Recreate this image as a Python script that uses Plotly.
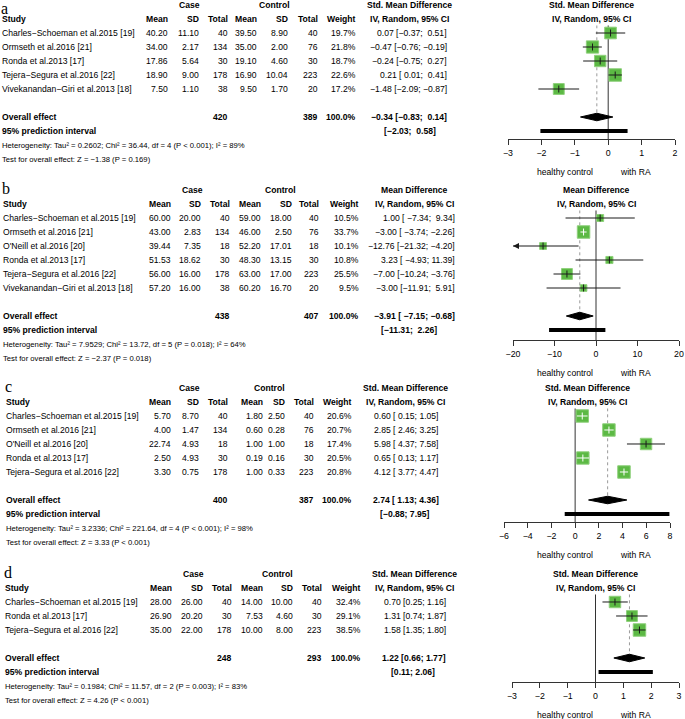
import math
import plotly.graph_objects as go

# ---------------- DATA ----------------
# Panel a
A_STUDY = ["Charles−Schoeman et al.2015 [19]", "Ormseth et al.2016 [21]", "Ronda et al.2013 [17]",
           "Tejera−Segura et al.2016 [22]", "Vivekanandan−Giri et al.2013 [18]"]
A_CASE_MEAN = [40.20, 34.00, 17.86, 18.90, 7.50]
A_CASE_SD = [11.10, 2.17, 5.64, 9.00, 1.10]
A_CASE_N = [40, 134, 30, 178, 38]
A_CTRL_MEAN = [39.50, 35.00, 19.10, 16.90, 9.50]
A_CTRL_SD = [8.90, 2.00, 4.60, 10.04, 1.70]
A_CTRL_N = [40, 76, 30, 223, 20]
A_WEIGHT = [19.7, 21.8, 18.7, 22.6, 17.2]
A_EST = [0.07, -0.47, -0.24, 0.21, -1.48]
A_LO = [-0.37, -0.76, -0.75, 0.01, -2.09]
A_HI = [0.51, -0.19, 0.27, 0.41, -0.87]
A_TOTALS = [420, 389]
A_OVERALL = [-0.34, -0.83, 0.14]
A_PRED = [-2.03, 0.58]
A_HET = ["0.2602", "36.44", "4", "P &lt; 0.001", "89%"]
A_TEST = ["−1.38", "P = 0.169"]
A_TICKS = [-3, -2, -1, 0, 1, 2]

# Panel b
B_STUDY = ["Charles−Schoeman et al.2015 [19]", "Ormseth et al.2016 [21]", "O'Neill et al.2016 [20]",
           "Ronda et al.2013 [17]", "Tejera−Segura et al.2016 [22]", "Vivekanandan−Giri et al.2013 [18]"]
B_CASE_MEAN = [60.00, 43.00, 39.44, 51.53, 56.00, 57.20]
B_CASE_SD = [20.00, 2.83, 7.35, 18.62, 16.00, 16.00]
B_CASE_N = [40, 134, 18, 30, 178, 38]
B_CTRL_MEAN = [59.00, 46.00, 52.20, 48.30, 63.00, 60.20]
B_CTRL_SD = [18.00, 2.50, 17.01, 13.15, 17.00, 16.70]
B_CTRL_N = [40, 76, 18, 30, 223, 20]
B_WEIGHT = [10.5, 33.7, 10.1, 10.8, 25.5, 9.5]
B_EST = [1.00, -3.00, -12.76, 3.23, -7.00, -3.00]
B_LO = [-7.34, -3.74, -21.32, -4.93, -10.24, -11.91]
B_HI = [9.34, -2.26, -4.20, 11.39, -3.76, 5.91]
B_TOTALS = [438, 407]
B_OVERALL = [-3.91, -7.15, -0.68]
B_PRED = [-11.31, 2.26]
B_HET = ["7.9529", "13.72", "5", "P = 0.018", "64%"]
B_TEST = ["−2.37", "P = 0.018"]
B_TICKS = [-20, -10, 0, 10, 20]

# Panel c
C_STUDY = ["Charles−Schoeman et al.2015 [19]", "Ormseth et al.2016 [21]", "O'Neill et al.2016 [20]",
           "Ronda et al.2013 [17]", "Tejera−Segura et al.2016 [22]"]
C_CASE_MEAN = [5.70, 4.00, 22.74, 2.50, 3.30]
C_CASE_SD = [8.70, 1.47, 4.93, 4.93, 0.75]
C_CASE_N = [40, 134, 18, 30, 178]
C_CTRL_MEAN = [1.80, 0.60, 1.00, 0.19, 1.00]
C_CTRL_SD = [2.50, 0.28, 1.00, 0.16, 0.33]
C_CTRL_N = [40, 76, 18, 30, 223]
C_WEIGHT = [20.6, 20.7, 17.4, 20.5, 20.8]
C_EST = [0.60, 2.85, 5.98, 0.65, 4.12]
C_LO = [0.15, 2.46, 4.37, 0.13, 3.77]
C_HI = [1.05, 3.25, 7.58, 1.17, 4.47]
C_TOTALS = [400, 387]
C_OVERALL = [2.74, 1.13, 4.36]
C_PRED = [-0.88, 7.95]
C_HET = ["3.2336", "221.64", "4", "P &lt; 0.001", "98%"]
C_TEST = ["3.33", "P &lt; 0.001"]
C_TICKS = [-6, -4, -2, 0, 2, 4, 6, 8]

# Panel d
D_STUDY = ["Charles−Schoeman et al.2015 [19]", "Ronda et al.2013 [17]", "Tejera−Segura et al.2016 [22]"]
D_CASE_MEAN = [28.00, 26.90, 35.00]
D_CASE_SD = [26.00, 20.20, 22.00]
D_CASE_N = [40, 30, 178]
D_CTRL_MEAN = [14.00, 7.53, 10.00]
D_CTRL_SD = [10.00, 4.60, 8.00]
D_CTRL_N = [40, 30, 223]
D_WEIGHT = [32.4, 29.1, 38.5]
D_EST = [0.70, 1.31, 1.58]
D_LO = [0.25, 0.74, 1.35]
D_HI = [1.16, 1.87, 1.80]
D_TOTALS = [248, 293]
D_OVERALL = [1.22, 0.66, 1.77]
D_PRED = [0.11, 2.06]
D_HET = ["0.1984", "11.57", "2", "P = 0.003", "83%"]
D_TEST = ["4.26", "P &lt; 0.001"]
D_TICKS = [-3, -2, -1, 0, 1, 2, 3]

OVERALL_WEIGHT = "100.0%"

# ---------------- LAYOUT CONFIG ----------------
W, H = 685, 719
SANS = "Liberation Sans, Arial, Helvetica, sans-serif"
SERIF = "Liberation Serif, Times New Roman, serif"
FS = 8.6
SMALL = 7.7
GREEN = "#5cb944"
GREEN_EDGE = "#8fd07c"
ROWPX = 14.0

panels = [
    dict(letter="a", title="Std. Mean Difference", study=A_STUDY, cm=A_CASE_MEAN, csd=A_CASE_SD, cn=A_CASE_N,
         km=A_CTRL_MEAN, ksd=A_CTRL_SD, kn=A_CTRL_N, w=A_WEIGHT, est=A_EST, lo=A_LO, hi=A_HI,
         tot=A_TOTALS, ov=A_OVERALL, pred=A_PRED, het=A_HET, test=A_TEST, ticks=A_TICKS,
         row1=33, axis=139, xpx=(508, 675), wl=5, wh=5, lx=1,
         cols=dict(study=2, mean=168, sd=199, n=228, kmean=257, ksd=288, kn=318, w=356, ci=447, pred=436,
                   case=189, ctrl=274, head=409)),
    dict(letter="b", title="Mean Difference", study=B_STUDY, cm=B_CASE_MEAN, csd=B_CASE_SD, cn=B_CASE_N,
         km=B_CTRL_MEAN, ksd=B_CTRL_SD, kn=B_CTRL_N, w=B_WEIGHT, est=B_EST, lo=B_LO, hi=B_HI,
         tot=B_TOTALS, ov=B_OVERALL, pred=B_PRED, het=B_HET, test=B_TEST, ticks=B_TICKS,
         row1=218, axis=340, xpx=(513, 679), wl=6, wh=5, lx=2,
         cols=dict(study=3, mean=171, sd=201, n=230, kmean=261, ksd=292, kn=319, w=359, ci=455, pred=437,
                   case=192, ctrl=280, head=414)),
    dict(letter="c", title="Std. Mean Difference", study=C_STUDY, cm=C_CASE_MEAN, csd=C_CASE_SD, cn=C_CASE_N,
         km=C_CTRL_MEAN, ksd=C_CTRL_SD, kn=C_CTRL_N, w=C_WEIGHT, est=C_EST, lo=C_LO, hi=C_HI,
         tot=C_TOTALS, ov=C_OVERALL, pred=C_PRED, het=C_HET, test=C_TEST, ticks=C_TICKS,
         row1=416, axis=522, xpx=(504, 670), wl=5, wh=4, lx=5,
         cols=dict(study=6, mean=171, sd=199, n=228, kmean=263, ksd=285, kn=314, w=352, ci=439, pred=430,
                   case=189, ctrl=269, head=405)),
    dict(letter="d", title="Std. Mean Difference", study=D_STUDY, cm=D_CASE_MEAN, csd=D_CASE_SD, cn=D_CASE_N,
         km=D_CTRL_MEAN, ksd=D_CTRL_SD, kn=D_CTRL_N, w=D_WEIGHT, est=D_EST, lo=D_LO, hi=D_HI,
         tot=D_TOTALS, ov=D_OVERALL, pred=D_PRED, het=D_HET, test=D_TEST, ticks=D_TICKS,
         row1=602, axis=682, xpx=(512, 679), wl=4, wh=4, lx=4,
         cols=dict(study=5, mean=172, sd=203, n=232, kmean=263, ksd=293, kn=322, w=361, ci=446, pred=435,
                   case=193, ctrl=277, head=414)),
]


def num(v, width=0):
    s = f"{abs(v):.2f}"
    if v < 0:
        s = "−" + s
    pad = max(0, width - len(s))
    return "\u00a0" * pad + s


def px(x):
    return x / W


def py(y):
    return 1 - y / H


fig = go.Figure()
annotations = []


def text(t, x, ypx, xanchor="left", bold=False, size=FS, family=SANS, xref="paper", yanchor="middle"):
    annotations.append(dict(
        text=f"<b>{t}</b>" if bold else t, x=px(x) if xref == "paper" else x, y=py(ypx),
        xref=xref, yref="paper", xanchor=xanchor, yanchor=yanchor, showarrow=False,
        borderpad=0, borderwidth=0,
        font=dict(size=size, family=family, color="black")))


layout_axes = {}
for i, p in enumerate(panels, start=1):
    xname = "x" if i == 1 else f"x{i}"
    yname = "y" if i == 1 else f"y{i}"
    n = len(p["study"])
    rows = list(range(1, n + 1))
    ov_row = n + 2
    pr_row = n + 3

    def rp(r, p=p):
        return p["row1"] + (r - 1) * ROWPX

    axis_row = (p["axis"] - p["row1"]) / ROWPX + 1
    top_row = 0.45
    xr = [p["ticks"][0], p["ticks"][-1]]
    x0, x1 = p["xpx"]
    ppu = (x1 - x0) / (xr[1] - xr[0])

    layout_axes["xaxis" if i == 1 else f"xaxis{i}"] = dict(
        domain=[px(x0), px(x1)], range=xr, anchor=yname, showgrid=False, zeroline=False,
        showline=True, linecolor="#333", linewidth=1, ticks="outside", ticklen=5, tickwidth=1,
        tickcolor="#333", tickvals=p["ticks"], tickfont=dict(size=8.8, family=SANS, color="black"),
        ticklabeloverflow="allow", fixedrange=True)
    layout_axes["yaxis" if i == 1 else f"yaxis{i}"] = dict(
        domain=[py(p["axis"]), py(rp(top_row))], range=[axis_row, top_row], anchor=xname,
        visible=False, fixedrange=True)

    # reference lines
    fig.add_trace(go.Scatter(x=[0, 0], y=[top_row, axis_row], mode="lines", xaxis=xname, yaxis=yname,
                             line=dict(color="#333", width=1), hoverinfo="skip", showlegend=False,
                             cliponaxis=False))
    fig.add_trace(go.Scatter(x=[p["ov"][0]] * 2, y=[top_row, ov_row], mode="lines", xaxis=xname, yaxis=yname,
                             line=dict(color="#9a9a9a", width=1, dash="dot"), hoverinfo="skip",
                             showlegend=False, cliponaxis=False))

    # squares
    wmax = max(p["w"])
    sizes = [12.5 * math.sqrt(w / wmax) for w in p["w"]]
    fig.add_trace(go.Scatter(x=p["est"], y=rows, mode="markers", xaxis=xname, yaxis=yname,
                             marker=dict(symbol="square", size=sizes, color=GREEN, opacity=1,
                                         line=dict(color=GREEN_EDGE, width=1)),
                             hoverinfo="skip", showlegend=False, cliponaxis=False))

    # CI lines
    colors = []
    for r, e, lo, hi, s in zip(rows, p["est"], p["lo"], p["hi"], sizes):
        inside = (hi - lo) * ppu < s
        c = "white" if inside else "#1a1a1a"
        colors.append(c)
        lo_c = max(lo, xr[0])
        hi_c = min(hi, xr[1])
        fig.add_trace(go.Scatter(x=[lo_c, hi_c], y=[r, r], mode="lines", xaxis=xname, yaxis=yname,
                                 line=dict(color=c, width=1), hoverinfo="skip", showlegend=False,
                                 cliponaxis=False))
        if lo < xr[0]:
            fig.add_trace(go.Scatter(x=[lo_c], y=[r], mode="markers", xaxis=xname, yaxis=yname,
                                     marker=dict(symbol="arrow-left", size=6, color="#1a1a1a"),
                                     hoverinfo="skip", showlegend=False, cliponaxis=False))
    fig.add_trace(go.Scatter(x=p["est"], y=rows, mode="markers", xaxis=xname, yaxis=yname,
                             marker=dict(symbol="line-ns", size=5, line=dict(color=colors, width=1)),
                             hoverinfo="skip", showlegend=False, cliponaxis=False))

    # overall diamond
    e, lo, hi = p["ov"]
    h = 0.27
    fig.add_trace(go.Scatter(x=[lo, e, hi, e, lo], y=[ov_row, ov_row - h, ov_row, ov_row + h, ov_row],
                             mode="lines", fill="toself", fillcolor="black", xaxis=xname, yaxis=yname,
                             line=dict(color="black", width=1), hoverinfo="skip", showlegend=False,
                             cliponaxis=False))
    # prediction interval
    fig.add_trace(go.Scatter(x=p["pred"], y=[pr_row, pr_row], mode="lines", xaxis=xname, yaxis=yname,
                             line=dict(color="black", width=4), hoverinfo="skip", showlegend=False,
                             cliponaxis=False))

    # ---- right-side titles
    text(p["title"], 0.5, rp(-1), xanchor="center", bold=True, xref=f"{xname} domain")
    text("IV, Random, 95% CI", 0.5, rp(0), xanchor="center", bold=True, xref=f"{xname} domain")
    # healthy control / with RA
    text("healthy control", 565, p["axis"] + 33, xanchor="center")
    text("with RA", 635, p["axis"] + 33, xanchor="center")

    # ---- table
    c = p["cols"]
    ly = rp(-1.1)
    if ly - 9 < 0:
        text(p["letter"], p["lx"], 0, family=SERIF, size=16, yanchor="top")
    else:
        text(p["letter"], p["lx"], ly, family=SERIF, size=16)
    text("Case", c["case"], rp(-1), xanchor="center", bold=True)
    text("Control", c["ctrl"], rp(-1), xanchor="center", bold=True)
    text(p["title"], c["head"], rp(-1), xanchor="center", bold=True)
    text("Study", c["study"], rp(0), bold=True)
    for key, lab in [("mean", "Mean"), ("sd", "SD"), ("n", "Total"), ("kmean", "Mean"), ("ksd", "SD"),
                     ("kn", "Total"), ("w", "Weight")]:
        text(lab, c[key], rp(0), xanchor="right", bold=True)
    text("IV, Random, 95% CI", c["head"], rp(0), xanchor="center", bold=True)

    for k in range(n):
        y = rp(rows[k])
        text(p["study"][k], c["study"], y)
        text(f"{p['cm'][k]:.2f}", c["mean"], y, xanchor="right")
        text(f"{p['csd'][k]:.2f}", c["sd"], y, xanchor="right")
        text(f"{p['cn'][k]}", c["n"], y, xanchor="right")
        text(f"{p['km'][k]:.2f}", c["kmean"], y, xanchor="right")
        text(f"{p['ksd'][k]:.2f}", c["ksd"], y, xanchor="right")
        text(f"{p['kn'][k]}", c["kn"], y, xanchor="right")
        text(f"{p['w'][k]:.1f}%", c["w"], y, xanchor="right")
        ci = f"{num(p['est'][k])} [{num(p['lo'][k], p['wl'])}; {num(p['hi'][k], p['wh'])}]"
        text(ci, c["ci"], y, xanchor="right")

    y = rp(ov_row)
    text("Overall effect", c["study"], y, bold=True)
    text(f"{p['tot'][0]}", c["n"], y, xanchor="right", bold=True)
    text(f"{p['tot'][1]}", c["kn"], y, xanchor="right", bold=True)
    text(OVERALL_WEIGHT, c["w"], y, xanchor="right", bold=True)
    ci = f"{num(e)} [{num(lo, p['wl'])}; {num(hi, p['wh'])}]"
    text(ci, c["ci"], y, xanchor="right", bold=True)
    y = rp(pr_row)
    text("95% prediction interval", c["study"], y, bold=True)
    text(f"[{num(p['pred'][0], p['wl'])}; {num(p['pred'][1], p['wh'])}]", c["pred"], y,
         xanchor="right", bold=True)

    tau, chi, df, pv, i2 = p["het"]
    het = f"Heterogeneity: Tau² = {tau}; Chi² = {chi}, df = {df} ({pv}); I² = {i2}"
    text(het, c["study"], rp(pr_row + 1), size=SMALL)
    z, pz = p["test"]
    text(f"Test for overall effect: Z = {z} ({pz})", c["study"], rp(pr_row + 2), size=SMALL)

fig.update_layout(
    width=W, height=H, margin=dict(l=0, r=0, t=0, b=0, autoexpand=False),
    paper_bgcolor="white", plot_bgcolor="rgba(0,0,0,0)",
    showlegend=False, annotations=annotations, **layout_axes)

fig.write_html("out.html", config={"displayModeBar": False, "staticPlot": True},
               post_script="document.body.style.margin='0';document.body.style.overflow='hidden';")
